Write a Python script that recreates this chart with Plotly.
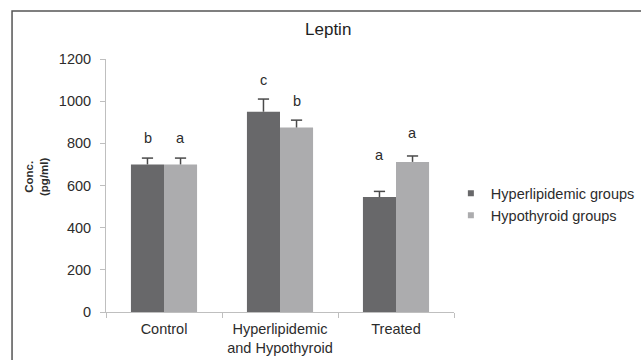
import plotly.graph_objects as go

categories = ["Control", "Hyperlipidemic<br>and Hypothyroid", "Treated"]
hyperlipidemic = [700, 950, 545]
hyperlipidemic_err = [30, 60, 27]
hypothyroid = [700, 875, 712]
hypothyroid_err = [30, 35, 28]
hyper_letters = ["b", "c", "a"]
hypo_letters = ["a", "b", "a"]
y_ticks = [0, 200, 400, 600, 800, 1000, 1200]

# styling: pixel offsets of the significance letters above error caps
hyper_shift = [20, 19, 36]
hypo_shift = [20, 19, 23]

DARK = "#68686a"
LIGHT = "#acacae"
ERR = "#4a4a4a"
TXT = "#2c2c2c"
FONT = "Liberation Sans"
FS = 14.5

fig = go.Figure()
series = [
    ("Hyperlipidemic groups", hyperlipidemic, hyperlipidemic_err, DARK, "g1"),
    ("Hypothyroid groups", hypothyroid, hypothyroid_err, LIGHT, "g2"),
]
for name, vals, errs, col, grp in series:
    fig.add_trace(go.Bar(
        x=categories, y=vals, name=name, offsetgroup=grp, showlegend=False,
        marker=dict(color=col, line=dict(width=0)),
        error_y=dict(type="data", array=errs, arrayminus=[0] * len(errs),
                     symmetric=False, color=ERR, thickness=1.5, width=0),
    ))
for name, vals, errs, col, grp in series:
    # caps of the (plus-only) error bars
    fig.add_trace(go.Scatter(
        x=categories, y=[v + e for v, e in zip(vals, errs)], mode="markers",
        offsetgroup=grp, showlegend=False, hoverinfo="skip",
        marker=dict(symbol="line-ew", size=8, line=dict(color=ERR, width=1.5)),
    ))
for name, vals, errs, col, grp in series:
    # legend entries with small square swatches
    fig.add_trace(go.Scatter(
        x=[None], y=[None], mode="markers", name=name,
        marker=dict(symbol="square", size=6, color=col),
    ))

for i, cat in enumerate(categories):
    fig.add_annotation(x=cat, y=hyperlipidemic[i] + hyperlipidemic_err[i],
                       text=hyper_letters[i], showarrow=False, xshift=-16.5,
                       yshift=hyper_shift[i], yanchor="middle",
                       font=dict(family=FONT, size=FS, color=TXT))
    fig.add_annotation(x=cat, y=hypothyroid[i] + hypothyroid_err[i],
                       text=hypo_letters[i], showarrow=False, xshift=16.5,
                       yshift=hypo_shift[i], yanchor="middle",
                       font=dict(family=FONT, size=FS, color=TXT))

fig.add_annotation(xref="paper", yref="paper", x=-0.198, y=0.534,
                   xanchor="center", yanchor="middle",
                   text="<b>Conc.<br>(pg/ml)</b>", textangle=-90,
                   showarrow=False,
                   font=dict(family=FONT, size=11.5, color=TXT))

fig.add_shape(type="rect", xref="paper", yref="paper",
              x0=-0.27, x1=2.0, y0=-0.5, y1=1.19,
              line=dict(color="#555555", width=1.5))

fig.update_layout(
    width=641, height=360,
    margin=dict(l=106, r=187, t=59, b=48, autoexpand=False),
    paper_bgcolor="white", plot_bgcolor="white",
    barmode="group", bargap=0.43, bargroupgap=0,
    scattermode="group", scattergap=0.43,
    title=dict(text="Leptin", x=0.512, xref="container", y=1 - 29/360,
               yref="container", yanchor="middle", xanchor="center",
               font=dict(family=FONT, size=17, color="#1e1e1e")),
    font=dict(family=FONT, size=FS, color=TXT),
    legend=dict(x=0.991, xanchor="left", y=0.532, yanchor="top",
                font=dict(family=FONT, size=FS, color=TXT),
                itemwidth=30, tracegroupgap=0, bgcolor="rgba(0,0,0,0)"),
    showlegend=True,
)
fig.update_xaxes(showline=True, linecolor="#bfbfbf", linewidth=1,
                 ticks="outside", tickson="boundaries", ticklen=5,
                 tickcolor="#bfbfbf", showgrid=False, ticklabelstandoff=4,
                 tickangle=0, automargin=False,
                 tickfont=dict(family=FONT, size=FS, color=TXT))
fig.update_yaxes(range=[0, 1200], tickvals=y_ticks, showline=True,
                 linecolor="#bfbfbf", linewidth=1, ticks="outside",
                 ticklen=5, tickcolor="#bfbfbf", showgrid=False,
                 zeroline=False, ticklabelstandoff=6, automargin=False,
                 tickfont=dict(family=FONT, size=FS, color=TXT))

fig.write_html("out.html")
